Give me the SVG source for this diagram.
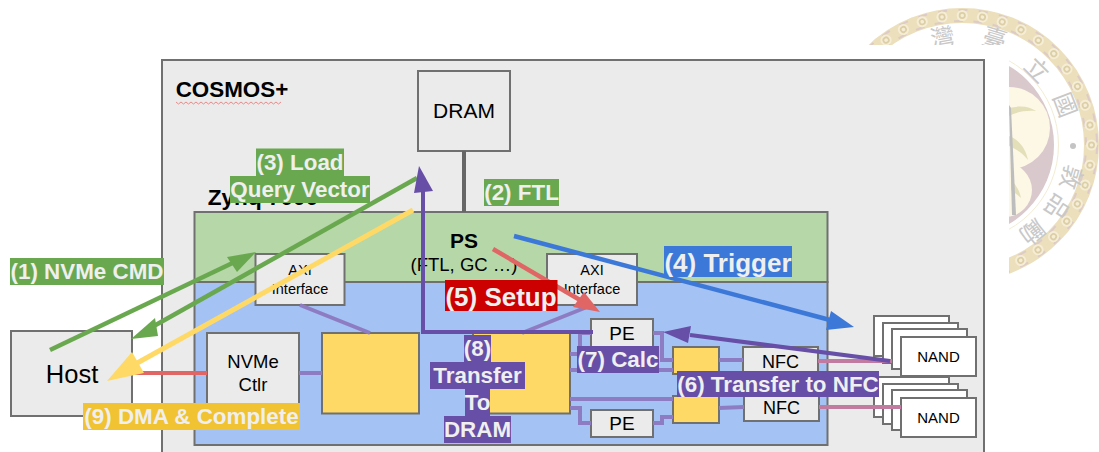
<svg xmlns="http://www.w3.org/2000/svg" width="1099" height="452" viewBox="0 0 1099 452">
<style>
text{font-family:"Liberation Sans",Arial,sans-serif;text-anchor:middle;fill:#000}
.b{fill:#ebebeb;stroke:#707070;stroke-width:2}
.w{fill:#fff;stroke:#707070;stroke-width:2}
.y{fill:#ffd966;stroke:#707070;stroke-width:2}
.l{fill:none;stroke:#8e7cc3;stroke-width:4}
.p{fill:none;stroke:#c27ba0;stroke-width:4}
.lab{font-weight:bold;fill:#efefef;font-size:22.4px}
.big{font-size:26px}
.cjk{font-family:"Noto Sans CJK TC","Noto Sans CJK SC",sans-serif;font-size:24px;fill:#c8c8c8}
</style>
<defs>
<clipPath id="sc"><rect x="0" y="0" width="1099" height="45"/><rect x="1009" y="0" width="90" height="452"/></clipPath>
</defs>
<rect width="1099" height="452" fill="#fff"/>
<g id="seal" clip-path="url(#sc)">
<circle cx="962" cy="145" r="129.5" fill="none" stroke="#ecdfbc" stroke-width="15"/>
<circle cx="962" cy="145" r="135" fill="none" stroke="#dccbc8" stroke-width="2" stroke-dasharray="9 11.4"/>
<circle cx="962" cy="145" r="124" fill="none" stroke="#dccbc8" stroke-width="2" stroke-dasharray="9 10.5" stroke-dashoffset="9"/>
<circle cx="962" cy="145" r="129.5" fill="none" stroke="#f5edd6" stroke-width="11" stroke-linecap="round" stroke-dasharray="0.1 20.24"/>
<circle cx="962" cy="145" r="129.5" fill="none" stroke="#dccfa6" stroke-width="7" stroke-linecap="round" stroke-dasharray="0.1 20.24"/>
<circle cx="962" cy="145" r="129.5" fill="none" stroke="#f5edd6" stroke-width="3.5" stroke-linecap="round" stroke-dasharray="0.1 20.24"/>
<circle cx="962" cy="145" r="96.500" fill="none" stroke="#f3ecd4" stroke-width="1"/>
<circle cx="962" cy="145" r="92" fill="#d9c8cc"/>
<circle cx="1009" cy="128" r="41" fill="#fdf7e6"/>
<circle cx="1005" cy="190" r="27" fill="#fdf7e6"/>
<path d="M1009 108C1022 105 1030 107 1036 111C1026 110 1016 112 1009 116ZM1009 136C1020 140 1026 150 1028 160C1022 152 1014 148 1009 146ZM1011 180C1017 186 1020 192 1021 198C1017 194 1013 192 1011 190Z" fill="#e3dfb8"/>
<path d="M1009 105L1011 108L1016 215L1012 215Z" fill="#bdbdbd"/>
<text class="cjk" transform="translate(944 46) rotate(-10)">灣</text>
<text class="cjk" transform="translate(992 47) rotate(17)">臺</text>
<text class="cjk" transform="translate(1031 76) rotate(45)">立</text>
<text class="cjk" transform="translate(1057 108) rotate(69)">國</text>
<circle cx="1073" cy="146" r="3" fill="#c4c4c4"/>
<text class="cjk" transform="translate(1063 175) rotate(106)">敦</text>
<text class="cjk" transform="translate(1050 202) rotate(123)">品</text>
<text class="cjk" transform="translate(1027 225) rotate(141)">勵</text>
</g>
<g id="cosmos">
<rect class="b" x="162" y="60" width="822" height="400"/>
<text x="232" y="97" font-size="22.400" font-weight="bold">COSMOS+</text>
<path d="M176 102l2.500 2l2.500-2l2.500 2l2.500-2l2.500 2l2.500-2l2.500 2l2.500-2l2.500 2l2.500-2l2.500 2l2.500-2l2.500 2l2.500-2l2.500 2l2.500-2l2.500 2l2.500-2l2.500 2l2.500-2l2.500 2l2.500-2l2.500 2l2.500-2l2.500 2l2.500-2l2.500 2l2.500-2l2.500 2l2.500-2l2.500 2l2.500-2l2.500 2l2.500-2l2.500 2l2.500-2l2.500 2l2.500-2l2.500 2l2.500-2l2.500 2l2.500-2" fill="none" stroke="#ea8a8a" stroke-width="1"/>
</g>
<g id="zynq-label"><text x="263" y="205" font-size="22.600" font-weight="bold">Zynq 7000</text></g>
<rect id="ps-region" x="194.500" y="212" width="633" height="70" fill="#b6d7a8" stroke="#707070" stroke-width="2"/>
<rect id="pl-region" x="194.500" y="282" width="633" height="163" fill="#a4c2f4" stroke="#707070" stroke-width="2"/>
<g id="dram"><rect class="b" x="418" y="71" width="92" height="80"/><text x="464" y="118" font-size="21">DRAM</text></g>
<g id="ps"><text x="464" y="248" font-size="21" font-weight="bold">PS</text><text x="464" y="271" font-size="18.500">(FTL, GC …)</text></g>
<g id="host"><rect class="b" x="11" y="331" width="121" height="85"/><text x="72" y="383" font-size="25.500">Host</text></g>
<g id="axi1"><rect class="b" x="255.500" y="254" width="89" height="51"/><text x="300" y="275" font-size="14.500">AXI</text><text x="300" y="294" font-size="14.500">Interface</text></g>
<g id="axi2"><rect class="b" x="547" y="254" width="90" height="51"/><text x="592" y="275" font-size="14.500">AXI</text><text x="592" y="294" font-size="14.500">Interface</text></g>
<g id="nvme"><rect class="b" x="207" y="333" width="92" height="90"/><text x="253" y="368" font-size="18.500">NVMe</text><text x="253" y="391" font-size="18.500">Ctlr</text></g>
<g id="buf1"><rect class="y" x="322" y="333" width="97" height="80.500"/></g>
<g id="buf2"><rect class="y" x="473" y="333" width="97" height="80.500"/></g>
<g id="pe1"><rect class="b" x="591" y="319" width="62" height="28"/><text x="622" y="340" font-size="19">PE</text></g>
<g id="pe2"><rect class="b" x="591" y="410" width="62" height="27"/><text x="622" y="430" font-size="19">PE</text></g>
<g id="sw1"><rect class="y" x="673" y="347" width="46" height="27"/></g>
<g id="sw2"><rect class="y" x="673" y="396" width="46" height="27"/></g>
<g id="nfc1"><rect class="b" x="743" y="347" width="75" height="28"/><text x="780.500" y="368" font-size="18">NFC</text></g>
<g id="nfc2"><rect class="b" x="744" y="395" width="75" height="26"/><text x="781.500" y="414" font-size="18">NFC</text></g>
<g id="nand1">
<rect class="w" x="874" y="316" width="75" height="40"/><rect class="w" x="883" y="323" width="75" height="40"/><rect class="w" x="892" y="329" width="75" height="40"/><rect class="w" x="901" y="337" width="75" height="39"/>
<text x="938.500" y="362" font-size="15">NAND</text></g>
<g id="nand2">
<rect class="w" x="874" y="377" width="75" height="40"/><rect class="w" x="883" y="384" width="75" height="40"/><rect class="w" x="892" y="390" width="75" height="40"/><rect class="w" x="901" y="398" width="75" height="39"/>
<text x="938.500" y="423" font-size="15">NAND</text></g>
<g id="connectors">
<path d="M464 151V212" fill="none" stroke="#666" stroke-width="4"/>
<path d="M132 373H207" fill="none" stroke="#e06666" stroke-width="4"/>
<path class="l" d="M300 305L370 333M299 373H322M522 333L592 305"/>
<path class="l" d="M570 354H580V333H591M570 370H673M570 399H673M570 408H580V423H591M653 423H662V417H673M653 333H662V360H673M719 360H743M719 408L744 407"/>
<path class="p" d="M818 361H892M819 407H901"/>
<path d="M50 350L243 258" fill="none" stroke="#6aa84f" stroke-width="4.500"/>
<path d="M256 252L237 272L227 257Z" fill="#6aa84f"/>
<path d="M417 178L145 331" fill="none" stroke="#6aa84f" stroke-width="4.500"/>
<path d="M131 339L155 318L158 336Z" fill="#6aa84f"/>
<path d="M413 210L130 367" fill="none" stroke="#ffd966" stroke-width="5"/>
<path d="M107 381L132 352L144 373Z" fill="#ffd966"/>
<path d="M593 332H423V190" fill="none" stroke="#674ea7" stroke-width="4"/>
<path d="M419 166L433 191L414 193Z" fill="#674ea7"/>
<path d="M514 236L830 320" fill="none" stroke="#3c78d8" stroke-width="4.500"/>
<path d="M854 327L826 330L831 311Z" fill="#3c78d8"/>
<path d="M493 249L580 300" fill="none" stroke="#e06666" stroke-width="4.500"/>
<path d="M600 312L573 307L584 292Z" fill="#e06666"/>
<path d="M890 361L690 335" fill="none" stroke="#674ea7" stroke-width="4"/>
<path d="M663 332L691 326L688 343Z" fill="#674ea7"/>
</g>
<g id="labels">
<rect x="10" y="258" width="154" height="27" fill="#6aa84f"/><text class="lab" x="87" y="279">(1) NVMe CMD</text>
<rect x="256" y="148.500" width="88" height="27.500" fill="#6aa84f"/><text class="lab" x="300" y="170">(3) Load</text>
<rect x="230" y="176" width="140" height="27" fill="#6aa84f"/><text class="lab" x="300" y="197">Query Vector</text>
<rect x="484" y="179" width="75" height="27" fill="#6aa84f"/><text class="lab" x="521.500" y="200">(2) FTL</text>
<rect x="664" y="246" width="128" height="31" fill="#3c78d8"/><text class="lab big" x="728" y="272">(4) Trigger</text>
<rect x="445" y="280" width="112.500" height="31" fill="#c00"/><text class="lab big" x="501" y="306">(5) Setup</text>
<rect x="464" y="335" width="27" height="27" fill="#674ea7"/><text class="lab" x="477.500" y="356">(8)</text>
<rect x="430" y="362" width="95" height="27" fill="#674ea7"/><text class="lab" x="477.500" y="383">Transfer</text>
<rect x="465" y="389" width="25" height="27" fill="#674ea7"/><text class="lab" x="477.500" y="410">To</text>
<rect x="444" y="416" width="67" height="27" fill="#674ea7"/><text class="lab" x="477.500" y="437">DRAM</text>
<rect x="577" y="346" width="82" height="27" fill="#674ea7"/><text class="lab" x="618" y="367">(7) Calc</text>
<rect x="677" y="371" width="202" height="26" fill="#674ea7"/><text class="lab" x="778" y="392">(6) Transfer to NFC</text>
<rect x="83" y="403" width="217" height="27" fill="#f1c232"/><text class="lab" x="191.500" y="424">(9) DMA &amp; Complete</text>
</g>
</svg>
